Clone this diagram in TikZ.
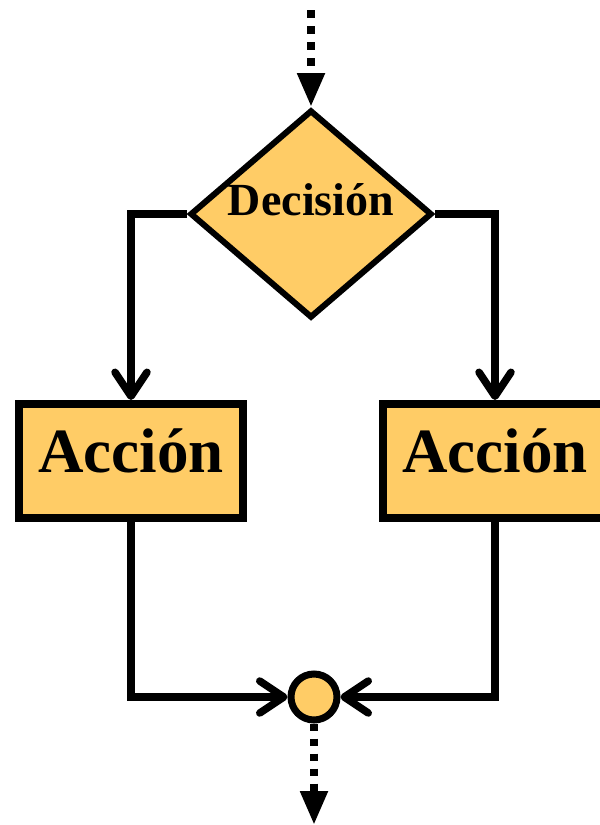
\documentclass[tikz,border=0pt]{standalone}
\usepackage{fontspec}
\setmainfont{Liberation Serif}
\usetikzlibrary{arrows.meta, positioning, shapes.geometric}
\definecolor{fillgold}{RGB}{255,204,102}

\begin{document}
\begin{tikzpicture}[x=1pt, y=1pt,
  decision/.style={diamond, draw, fill=fillgold, line width=6pt, inner sep=0pt,
                   minimum width=242pt, minimum height=208pt},
  action/.style={draw, fill=fillgold, line width=8pt, inner sep=0pt,
                 minimum width=224pt, minimum height=114pt,
                 font=\fontsize{63}{70}\selectfont\bfseries,
                 text height=47pt, text depth=25pt},
  junction/.style={circle, draw, fill=fillgold, line width=7pt, inner sep=0pt,
                   minimum size=46pt},
  arr/.style={line width=7.5pt, line join=miter,
              -{Straight Barb[length=24pt, width=32pt, round]}},
  flow/.style={line width=8pt, dash pattern=on 8pt off 8pt,
               -{Triangle[length=34pt, width=26pt]}}]
\useasboundingbox (0,0) rectangle (600,-825);
\node[decision] (dec) at (311,-214) {};
\node[font=\fontsize{46}{52}\selectfont\bfseries, anchor=base, inner sep=0pt]
  (dectext) at ([yshift=-1pt]dec.center) {Decisión};
\node[action] (left) at (131,-461) {Acción};
\node[action] (right) at (495,-461) {Acción};
\node[junction] (join) at (314,-697) {};
\coordinate (in) at (311,-10);
\coordinate (out) at (314,-825);
\draw[flow] (in) -- (dec.north);
\draw[arr] (dec.west) -| (left.north);
\draw[arr] (dec.east) -| (right.north);
\draw[arr] (left.south) |- (join.west);
\draw[arr] (right.south) |- (join.east);
\draw[flow, dash pattern=on 7pt off 8pt] (join.south) -- (out);
\end{tikzpicture}
\end{document}
